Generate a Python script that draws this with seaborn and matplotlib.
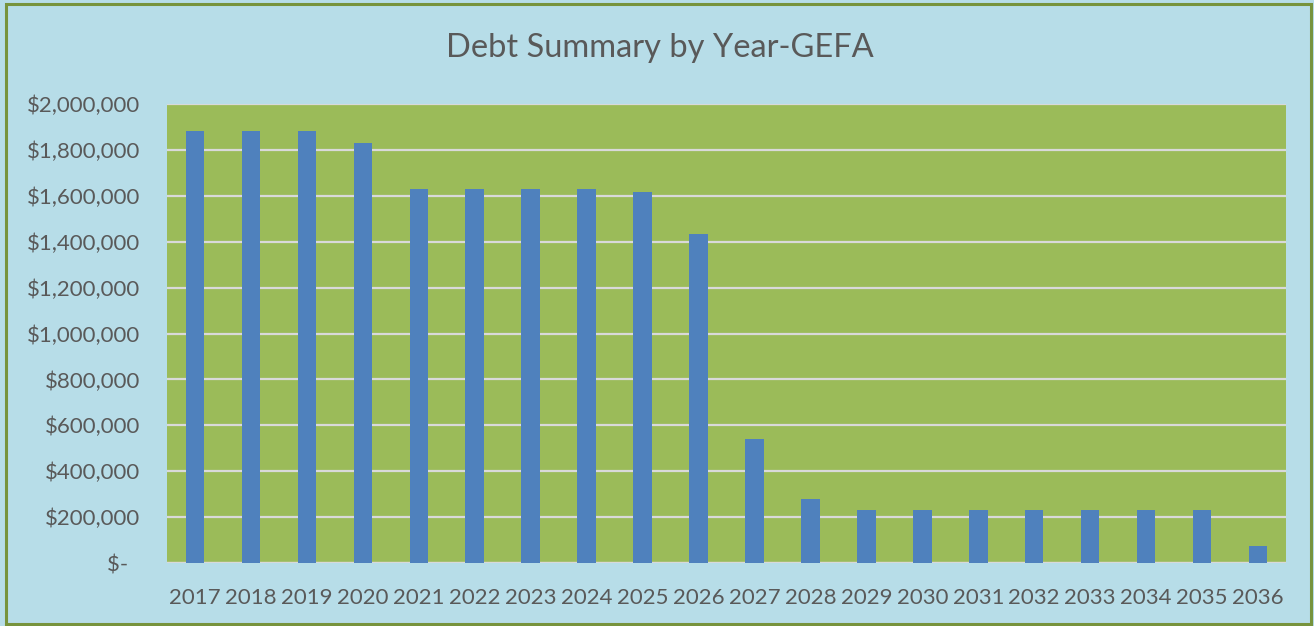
import matplotlib
matplotlib.use("Agg")
import matplotlib.pyplot as plt
import matplotlib.patches as mpatches
from matplotlib.ticker import FuncFormatter, MultipleLocator
import seaborn as sns
import pandas as pd

years = [str(y) for y in range(2017, 2037)]
debt = [1881000, 1881000, 1881000, 1830000, 1630000, 1630000, 1630000, 1630000,
        1618000, 1434000, 540000, 277000, 232000, 232000, 232000, 232000,
        232000, 232000, 232000, 75000]

title = "Debt Summary by Year-GEFA"

outer_bg = "#B7DDE8"
plot_bg = "#9BBB59"
bar_color = "#4F81BD"
frame_color = "#77933C"
grid_color = "#D9D9D9"
text_color = "#595959"

sns.set_theme(style="white")
plt.rcParams["font.family"] = ["Lato", "DejaVu Sans"]

df = pd.DataFrame({"year": years, "debt": debt})

fig = plt.figure(figsize=(13.14, 6.26), dpi=100, facecolor=outer_bg)
W, H = 1314, 626
ax = fig.add_axes([167 / W, 1 - 563 / H, (1286 - 167) / W, (563 - 104) / H])
ax.set_facecolor(plot_bg)

sns.barplot(data=df, x="year", y="debt", color=bar_color, saturation=1,
            width=0.33, ax=ax, edgecolor="none")

ax.set_ylim(0, 2000000)
ax.set_xlim(-0.5, len(years) - 0.5)
ax.yaxis.set_major_locator(MultipleLocator(200000))


def money(v, pos):
    if v == 0:
        return "$-  "
    return "${:,.0f}".format(v)


ax.yaxis.set_major_formatter(FuncFormatter(money))
ax.set_axisbelow(True)
ax.grid(axis="y", color=grid_color, linewidth=1.6)
ax.grid(axis="x", visible=False)
for s in ax.spines.values():
    s.set_visible(False)
ax.axhline(0, color=grid_color, linewidth=1.6, zorder=0.5)

ax.set_xlabel("")
ax.set_ylabel("")
ax.tick_params(axis="y", length=0, pad=19.5, labelsize=16, labelcolor=text_color)
ax.tick_params(axis="x", length=0, pad=18, labelsize=16, labelcolor=text_color)

fig.text(660 / W, 1 - 48 / H, title, ha="center", va="center",
         fontsize=23.5, color=text_color)

# outer chart frame
frame = mpatches.Rectangle((6 / W, 1 - 624 / H), (1311 - 6) / W, (624 - 4) / H,
                           transform=fig.transFigure, fill=False,
                           edgecolor=frame_color, linewidth=2.2)
fig.patches.append(frame)

fig.savefig("out.png", dpi=100, facecolor=outer_bg)
